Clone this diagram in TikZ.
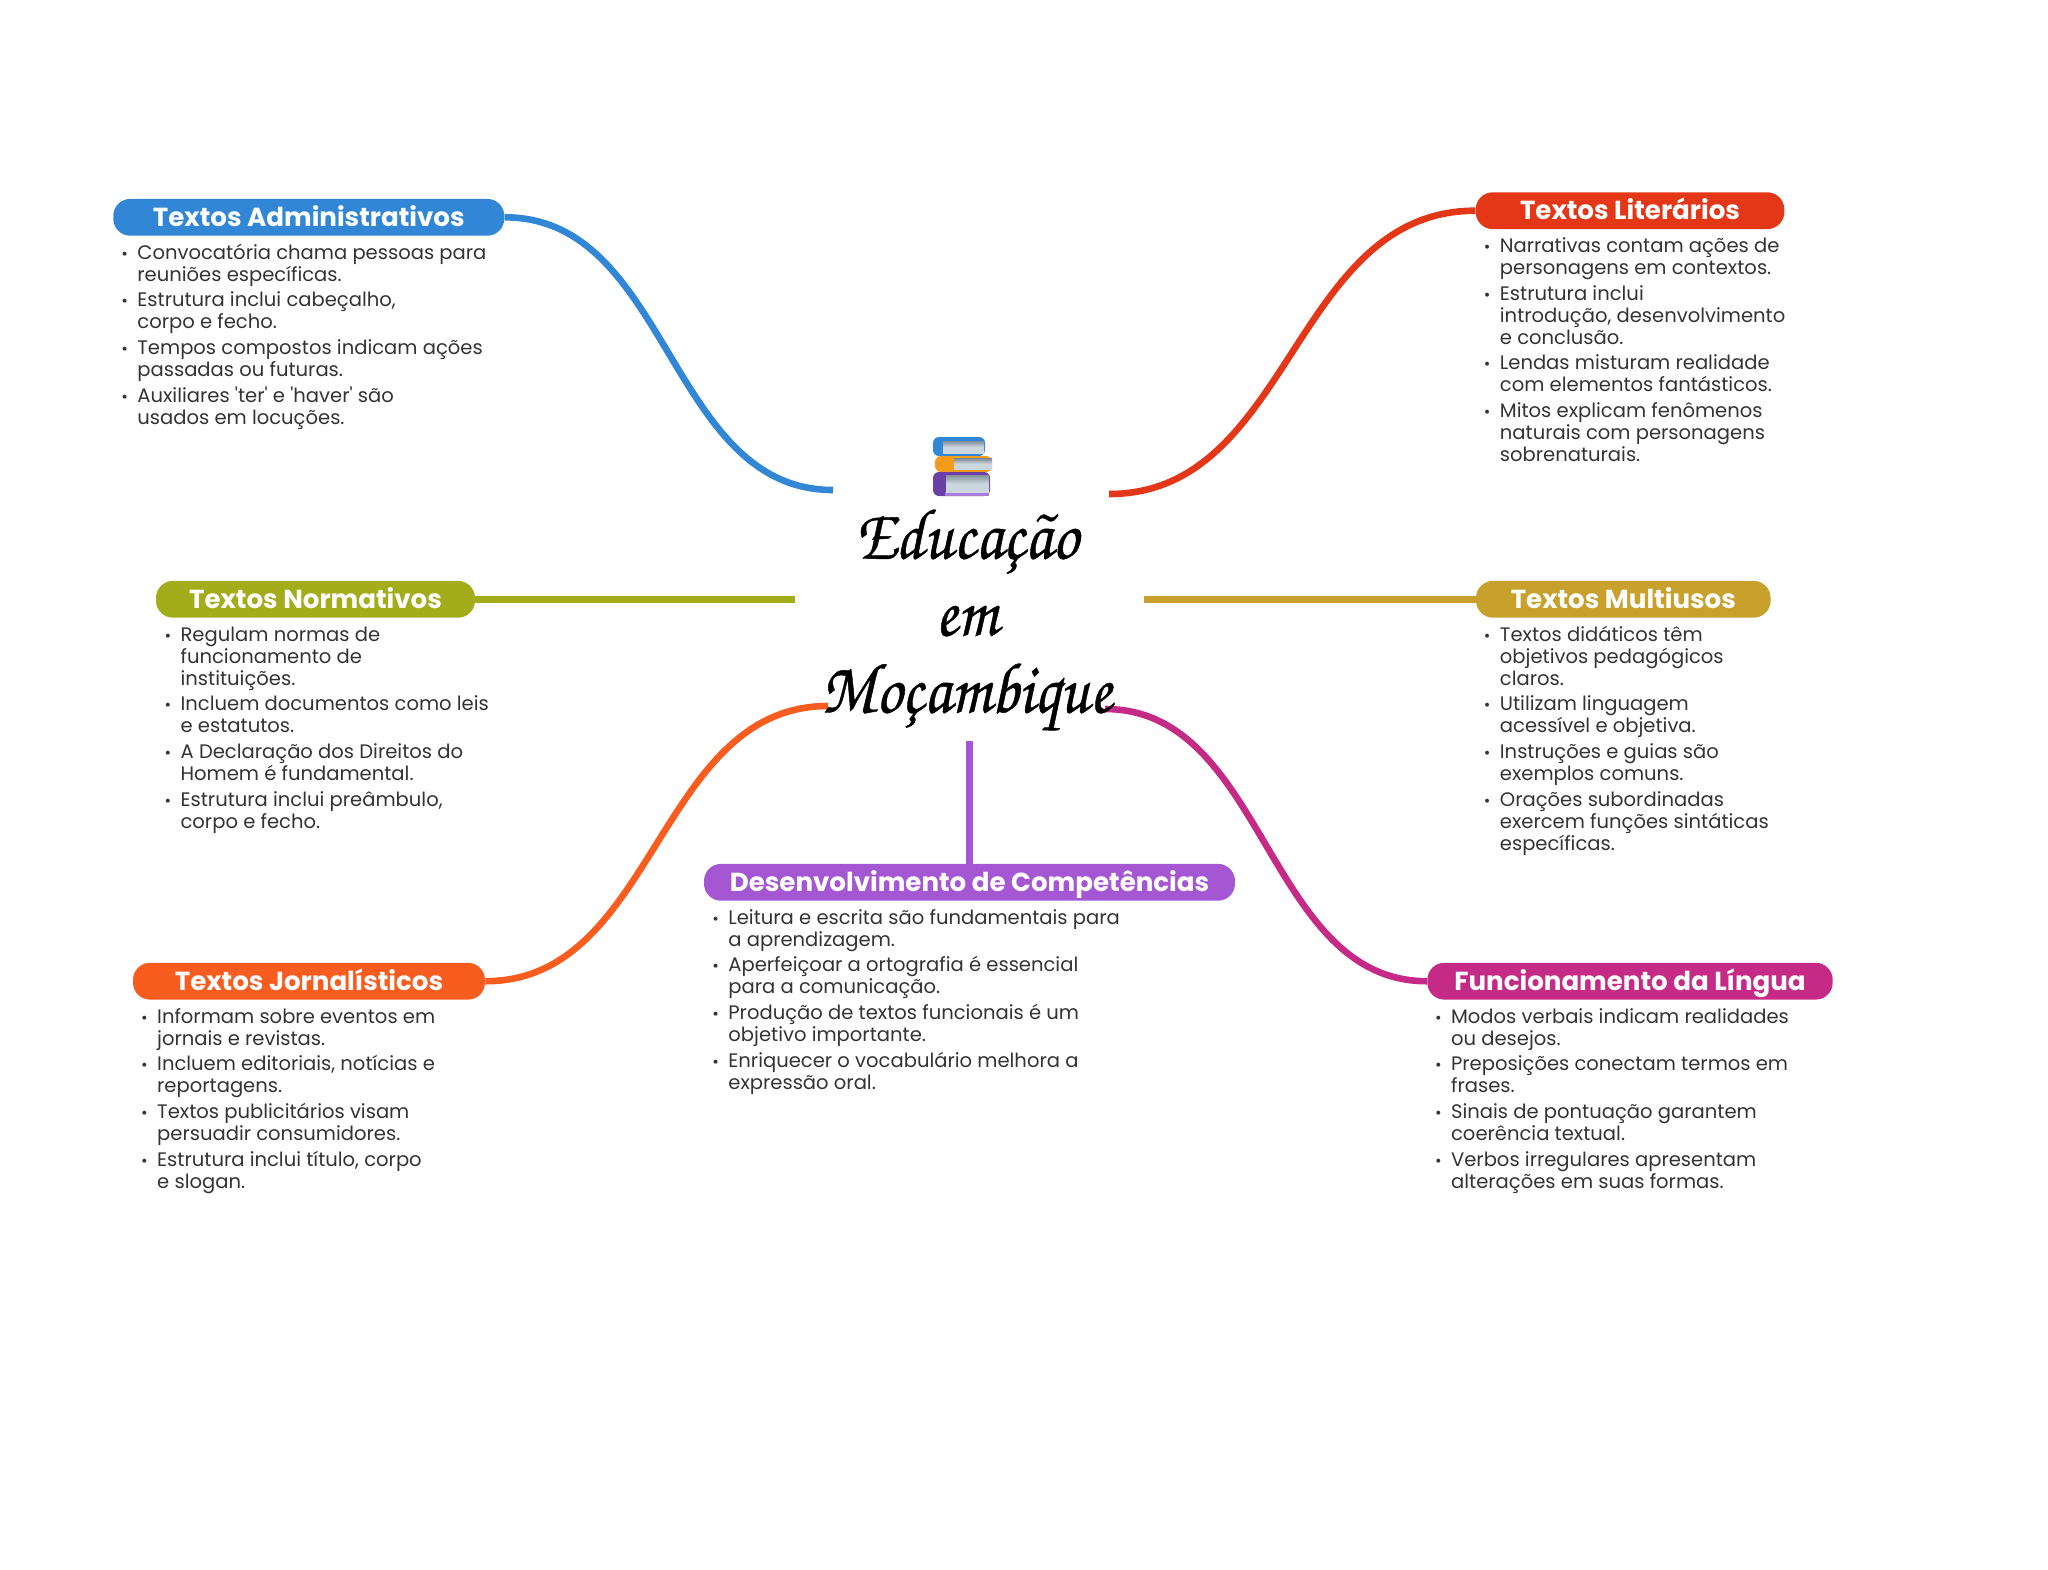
\documentclass[tikz,border=0pt]{standalone}
\usepackage{fontspec}
\usepackage{tikz}
\setmainfont[Ligatures=TeXOff]{Poppins}
\newfontfamily\titulofont[FakeStretch=0.9,FakeBold=0.6]{TeX Gyre Chorus}

\definecolor{adminblue}{HTML}{3187D5}
\definecolor{litred}{HTML}{E43717}
\definecolor{normolive}{HTML}{A3AD1B}
\definecolor{multigold}{HTML}{C8A02C}
\definecolor{jornorange}{HTML}{F85D1F}
\definecolor{funcpink}{HTML}{C52A87}
\definecolor{despurple}{HTML}{A557D3}
\definecolor{bodygray}{HTML}{333333}
\definecolor{pagegray}{HTML}{CBD6DE}
\definecolor{pagedark}{HTML}{7F8E98}
\definecolor{bookorange}{HTML}{F59B1B}
\definecolor{bookpurple}{HTML}{6B3FA6}
\definecolor{booklilac}{HTML}{A67FDC}

\newcommand{\bu}{\rule{0pt}{7.8pt}\makebox[9pt][l]{\hspace*{1pt}{\fontsize{8}{8}\selectfont •}}}
\newcommand{\nb}{\hspace*{9pt}}

\tikzset{
	pill/.style={fill=#1,rounded corners=8.5pt,minimum height=18.4pt,inner sep=0pt,text=white,text height=11pt,text depth=1.9pt,font=\fontsize{13.05}{15}\selectfont\bfseries},
	bodytxt/.style={anchor=north west,inner sep=0pt,align=left,text=bodygray,font=\fontsize{9.78}{11}\selectfont},
	link/.style={draw=#1,line width=3.3pt},
	pages/.style={top color=pagedark,bottom color=pagegray,middle color=pagegray}
}

\begin{document}
\begin{tikzpicture}[x=0.5pt,y=-0.5pt]
	\useasboundingbox (0,0) rectangle (2048,1569);
	
	\node[pill=adminblue,minimum width=195.5pt] (admin) at (308.8, 217.3)  {Textos Administrativos};
	\node[pill=litred,minimum width=154.3pt]    (lit)   at (1630, 210.7)   {Textos Literários};
	\node[pill=normolive,minimum width=159.5pt] (norm)  at (315.5, 599.3)  {Textos Normativos};
	\node[pill=multigold,minimum width=147.3pt] (multi) at (1623.3, 599.3) {Textos Multiusos};
	\node[pill=jornorange,minimum width=176pt]  (jorn)  at (309, 981.2)    {Textos Jornalísticos};
	\node[pill=funcpink,minimum width=202.7pt]  (func)  at (1630, 981.2)   {Funcionamento da Língua};
	\node[pill=despurple,minimum width=265.5pt] (des)   at (969.5, 882.3)  {Desenvolvimento de Competências};
	
	\coordinate (cadmin) at (833, 490);
	\coordinate (clit)   at (1109, 494);
	\coordinate (cnorm)  at (795, 599.3);
	\coordinate (cmulti) at (1144, 599.3);
	\coordinate (cjorn)  at (828, 706);
	\coordinate (cfunc)  at (1105, 709);
	\coordinate (cdes)   at (969.5, 741);
	
	\draw[link=adminblue]  (admin.east) .. controls +(165,0) and +(-165,0) .. (cadmin);
	\draw[link=litred]     (lit.west)   .. controls +(-183,0) and +(183,0) .. (clit);
	\draw[link=normolive]  (norm.east)  -- (cnorm);
	\draw[link=multigold]  (multi.west) -- (cmulti);
	\draw[link=jornorange] (jorn.east)  .. controls +(171,0) and +(-171,0) .. (cjorn);
	\draw[link=funcpink]   (func.west)  .. controls +(-161,0) and +(161,0) .. (cfunc);
	\draw[link=despurple]  (des.north)  -- (cdes);
	
	% livros
	\fill[rounded corners=3pt,fill=adminblue] (933,437) rectangle (985,456);
	\fill[pages] (943,441) rectangle (984,453);
	\fill[rounded corners=3pt,fill=bookorange] (935,456) rectangle (992,472);
	\fill[pages] (954,458.5) rectangle (992,469);
	\fill[rounded corners=3pt,fill=bookpurple] (933,472) rectangle (990,496);
	\fill[fill=booklilac] (945,492) rectangle (989,496);
	\fill[pages] (946,475) rectangle (989,492);
	
	\node[inner sep=0pt,align=center,text=black,font=\fontsize{36}{38.5}\selectfont\titulofont] (titulo) at (966.5, 620) {Educação\\em\\Moçambique};
	
	\node[bodytxt] (admintxt) at (119, 243) {\bu Convocatória chama pessoas para\\\nb reuniões específicas.\\[1.85pt]
		\bu Estrutura inclui cabeçalho,\\\nb corpo e fecho.\\[1.85pt]
		\bu Tempos compostos indicam ações\\\nb passadas ou futuras.\\[1.85pt]
		\bu Auxiliares 'ter' e 'haver' são\\\nb usados em locuções.};
	\node[bodytxt] (littxt) at (1481.5, 236.5) {\bu Narrativas contam ações de\\\nb personagens em contextos.\\[1.85pt]
		\bu Estrutura inclui\\\nb introdução, desenvolvimento\\\nb e conclusão.\\[1.85pt]
		\bu Lendas misturam realidade\\\nb com elementos fantásticos.\\[1.85pt]
		\bu Mitos explicam fenômenos\\\nb naturais com personagens\\\nb sobrenaturais.};
	\node[bodytxt] (normtxt) at (162.2, 625) {\bu Regulam normas de\\\nb funcionamento de\\\nb instituições.\\[1.85pt]
		\bu Incluem documentos como leis\\\nb e estatutos.\\[1.85pt]
		\bu A Declaração dos Direitos do\\\nb Homem é fundamental.\\[1.85pt]
		\bu Estrutura inclui preâmbulo,\\\nb corpo e fecho.};
	\node[bodytxt] (multitxt) at (1481.5, 625) {\bu Textos didáticos têm\\\nb objetivos pedagógicos\\\nb claros.\\[1.85pt]
		\bu Utilizam linguagem\\\nb acessível e objetiva.\\[1.85pt]
		\bu Instruções e guias são\\\nb exemplos comuns.\\[1.85pt]
		\bu Orações subordinadas\\\nb exercem funções sintáticas\\\nb específicas.};
	\node[bodytxt] (jorntxt) at (138.8, 1007) {\bu Informam sobre eventos em\\\nb jornais e revistas.\\[1.85pt]
		\bu Incluem editoriais, notícias e\\\nb reportagens.\\[1.85pt]
		\bu Textos publicitários visam\\\nb persuadir consumidores.\\[1.85pt]
		\bu Estrutura inclui título, corpo\\\nb e slogan.};
	\node[bodytxt] (functxt) at (1432.7, 1007) {\bu Modos verbais indicam realidades\\\nb ou desejos.\\[1.85pt]
		\bu Preposições conectam termos em\\\nb frases.\\[1.85pt]
		\bu Sinais de pontuação garantem\\\nb coerência textual.\\[1.85pt]
		\bu Verbos irregulares apresentam\\\nb alterações em suas formas.};
	\node[bodytxt] (destxt) at (710, 908) {\bu Leitura e escrita são fundamentais para\\\nb a aprendizagem.\\[1.85pt]
		\bu Aperfeiçoar a ortografia é essencial\\\nb para a comunicação.\\[1.85pt]
		\bu Produção de textos funcionais é um\\\nb objetivo importante.\\[1.85pt]
		\bu Enriquecer o vocabulário melhora a\\\nb expressão oral.};
	
\end{tikzpicture}
\end{document}
